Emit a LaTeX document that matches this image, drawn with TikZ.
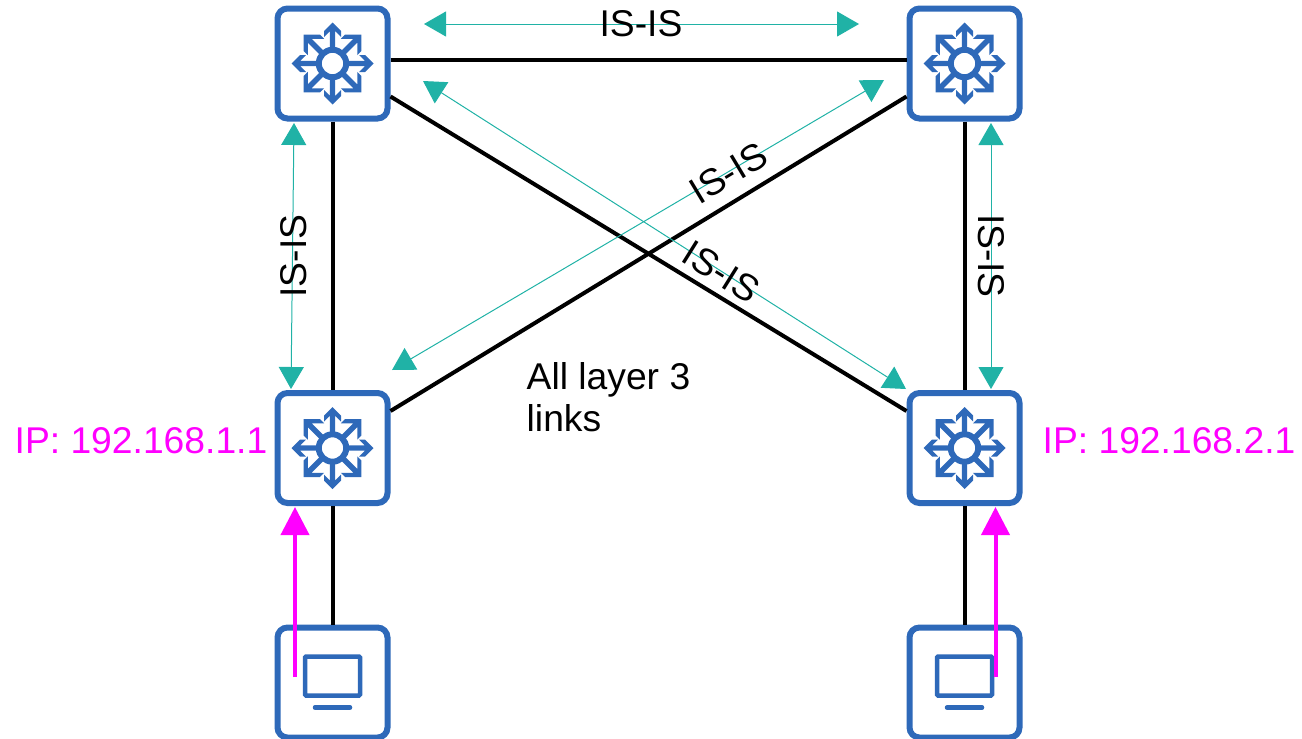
\documentclass[tikz,border=0pt]{standalone}
\usepackage{fontspec}
\setmainfont{Liberation Sans}
\usetikzlibrary{arrows.meta}
\definecolor{boxblue}{HTML}{2E69B9}
\definecolor{isisteal}{HTML}{20B2A6}
\definecolor{ippink}{HTML}{FF00FF}
\tikzset{
    device/.style={draw=boxblue, line width=.06cm, rounded corners=.1cm, minimum size=1.10cm},
    link/.style={line width=.04cm},
    isis/.style={{Triangle[length=.22cm,width=.25cm]}-{Triangle[length=.22cm,width=.25cm]}, isisteal, line width=.01cm},
    flow/.style={-{Triangle[length=.28cm,width=.28cm]}, ippink, line width=.04cm},
    lbl/.style={font=\fontsize{10.6}{12}\selectfont, inner sep=0pt},
    switchicon/.pic={
        \draw[boxblue, line width=.06cm] (0,0) circle (.137);
        \foreach \ang/\hw in {0/.085,90/.085,180/.085,270/.085,45/.115,135/.115,225/.115,315/.115}{
            \fill[boxblue, rotate=\ang] (0,.41) -- (\hw,.41-\hw) -- (\hw,.41-\hw-.06)
                -- (.027,.323) -- (.027,.15) -- (-.027,.15) -- (-.027,.323)
                -- (-\hw,.41-\hw-.06) -- (-\hw,.41-\hw) -- cycle;
        }
    },
    pcicon/.pic={
        \draw[boxblue, line width=.045cm, rounded corners=.01cm] (-.275,-.13) rectangle (.275,.26);
        \draw[boxblue, line width=.045cm, line cap=round] (-.175,-.25) -- (.175,-.25);
    }
}
\begin{document}
\begin{tikzpicture}
    \useasboundingbox (0,0) rectangle (13.02,7.38);

    % Devices
    \node[device] (swA) at (3.325,6.745) {};
    \node[device] (swB) at (9.645,6.745) {};
    \node[device] (swC) at (3.325,2.90) {};
    \node[device] (swD) at (9.645,2.90) {};
    \node[device] (pcC) at (3.325,.555) {};
    \node[device] (pcD) at (9.645,.555) {};
    \foreach \sw in {swA,swB,swC,swD}{
        \pic at (\sw) {switchicon};
    }
    \pic at (pcC) {pcicon};
    \pic at (pcD) {pcicon};

    % Links
    \draw[link] ([yshift=.035cm]swA.east) -- ([yshift=.035cm]swB.west);
    \draw[link] (swA) -- (swC);
    \draw[link] (swB) -- (swD);
    \draw[link] ([yshift=-.33cm]swA.east) -- ([yshift=.37cm]swD.west);
    \draw[link] ([yshift=-.33cm]swB.west) -- ([yshift=.37cm]swC.east);
    \draw[link] (swC) -- (pcC);
    \draw[link] (swD) -- (pcD);

    % IS-IS
    \coordinate (isisTopL) at (4.24,7.14);
    \coordinate (isisTopR) at (8.59,7.14);
    \coordinate (isisLeftT) at (2.94,6.15);
    \coordinate (isisLeftB) at (2.91,3.49);
    \coordinate (isisRightT) at (9.91,6.15);
    \coordinate (isisRightB) at (9.91,3.49);
    \coordinate (isisUpR) at (8.84,6.58);
    \coordinate (isisUpL) at (3.92,3.68);
    \coordinate (isisDownL) at (4.23,6.57);
    \coordinate (isisDownR) at (9.06,3.49);
    \draw[isis] (isisTopL) -- (isisTopR);
    \draw[isis] (isisLeftT) -- (isisLeftB);
    \draw[isis] (isisRightT) -- (isisRightB);
    \draw[isis] (isisUpR) -- (isisUpL);
    \draw[isis] (isisDownL) -- (isisDownR);
    \node[lbl] (lblTop) at (6.41,7.14) {IS-IS};
    \node[lbl, rotate=90] (lblLeft) at (2.935,4.82) {IS-IS};
    \node[lbl, rotate=270] (lblRight) at (9.915,4.82) {IS-IS};
    \node[lbl, rotate=31] (lblUp) at (7.285,5.65) {IS-IS};
    \node[lbl, rotate=-32] (lblDown) at (7.215,4.66) {IS-IS};

    % Traffic
    \coordinate (flowC) at (2.95,.61);
    \coordinate (flowCend) at (2.95,2.31);
    \coordinate (flowD) at (9.955,.61);
    \coordinate (flowDend) at (9.955,2.31);
    \draw[flow] (flowC) -- (flowCend);
    \draw[flow] (flowD) -- (flowDend);

    % Texts
    \node[lbl, ippink] (ipC) at (1.41,2.97) {IP: 192.168.1.1};
    \node[lbl, ippink] (ipD) at (11.69,2.97) {IP: 192.168.2.1};
    \node[lbl, anchor=west, align=left, font=\fontsize{10.6}{11.95}\selectfont] (note) at (5.26,3.41) {All layer 3\\links};
\end{tikzpicture}
\end{document}
